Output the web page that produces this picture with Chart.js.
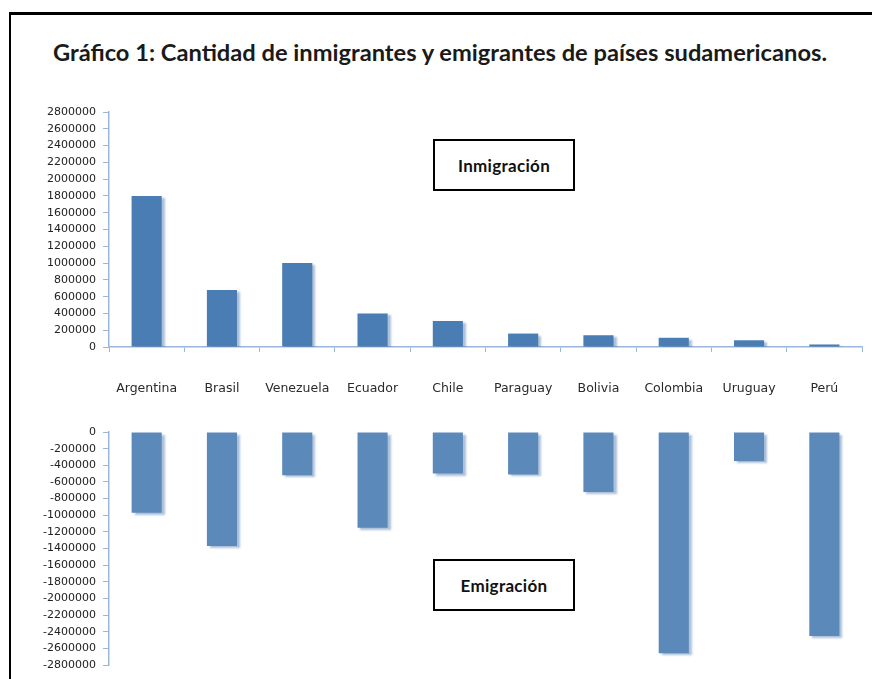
<!DOCTYPE html>
<html>
<head>
<meta charset="utf-8">
<script src="https://cdn.jsdelivr.net/npm/chart.js@4.4.0/dist/chart.umd.min.js"></script>
<style>
  body { margin: 0; background: #fff; width: 872px; height: 679px; overflow: hidden; position: relative; }
  .frame { position: absolute; left: 9px; top: 12px; width: 900px; height: 700px; border-left: 2px solid #000; border-top: 3px solid #000; }
  .title { position: absolute; left: 53px; top: 38px; font: bold 23px Lato, sans-serif; color: #1a1a1a; white-space: nowrap; transform-origin: left top; }
  .box { position: absolute; left: 433px; width: 142px; height: 52px; box-sizing: border-box; border: 2px solid #000; display: flex; align-items: center; justify-content: center; font: bold 17px Lato, sans-serif; letter-spacing: 0.3px; color: #111; background: #fff; }
  canvas { position: absolute; left: 0; }
</style>
</head>
<body>
<div class="frame"></div>
<div class="title" id="title">Gráfico 1: Cantidad de inmigrantes y emigrantes de países sudamericanos.</div>
<canvas id="topChart" width="872" height="400" style="top:0"></canvas>
<canvas id="bottomChart" width="872" height="279" style="top:400px"></canvas>
<div class="box" style="top:139px">Inmigración</div>
<div class="box" style="top:559px">Emigración</div>
<script>
const categories = ['Argentina', 'Brasil', 'Venezuela', 'Ecuador', 'Chile', 'Paraguay', 'Bolivia', 'Colombia', 'Uruguay', 'Perú'];
const inmigracion = [1800000, 680000, 1000000, 400000, 310000, 160000, 140000, 110000, 80000, 30000];
const emigracion = [-970000, -1370000, -520000, -1150000, -500000, -510000, -720000, -2660000, -350000, -2450000];
const tickStep = 200000;
const tickMax = 2800000;

// squeeze the title to the width it has in the picture
const title = document.getElementById('title');
title.style.transform = 'scaleX(' + (774 / title.getBoundingClientRect().width) + ')';

const axisColor = '#9ab6da';
const tickFont = { family: 'DejaVu Sans', size: 11 };
const catFont = { family: 'DejaVu Sans', size: 12.5 };

// soft shadow to the right/bottom of each bar
const barShadow = {
  id: 'barShadow',
  beforeDatasetsDraw(chart) {
    const ctx = chart.ctx;
    ctx.save();
    ctx.shadowColor = 'rgba(90,130,180,0.5)';
    ctx.shadowOffsetX = 3;
    ctx.shadowOffsetY = 2;
    ctx.shadowBlur = 2;
  },
  afterDatasetsDraw(chart) {
    chart.ctx.restore();
  }
};

const yAxis = (min, max) => ({
  min: min,
  max: max,
  afterFit: (scale) => { scale.width = 109; },
  border: { display: true, color: axisColor, width: 1.5 },
  grid: { display: true, drawOnChartArea: false, drawTicks: true, tickLength: 6, color: axisColor },
  ticks: {
    stepSize: tickStep,
    padding: 7,
    color: '#222',
    font: tickFont,
    callback: (v) => String(v)
  }
});

new Chart(document.getElementById('topChart'), {
  type: 'bar',
  data: {
    labels: categories,
    datasets: [{
      data: inmigracion,
      backgroundColor: '#4a7db3',
      categoryPercentage: 1,
      barPercentage: 0.4
    }]
  },
  plugins: [barShadow],
  options: {
    responsive: false,
    devicePixelRatio: 1,
    animation: false,
    layout: { padding: { top: 112, right: 10, left: 0, bottom: 0 } },
    plugins: { legend: { display: false }, tooltip: { enabled: false } },
    scales: {
      x: {
        afterFit: (scale) => { scale.height = 53; },
        border: { display: true, color: axisColor, width: 1.5 },
        grid: { display: true, drawOnChartArea: false, drawTicks: true, tickLength: 5, color: axisColor },
        ticks: { padding: 29, color: '#2a2a2a', font: catFont, maxRotation: 0 }
      },
      y: yAxis(0, tickMax)
    }
  }
});

new Chart(document.getElementById('bottomChart'), {
  type: 'bar',
  data: {
    labels: categories,
    datasets: [{
      data: emigracion,
      backgroundColor: '#5a89ba',
      categoryPercentage: 1,
      barPercentage: 0.4
    }]
  },
  plugins: [barShadow],
  options: {
    responsive: false,
    devicePixelRatio: 1,
    animation: false,
    layout: { padding: { top: 32, right: 10, left: 0, bottom: 14 } },
    plugins: { legend: { display: false }, tooltip: { enabled: false } },
    scales: {
      x: { display: false },
      y: yAxis(-tickMax, 0)
    }
  }
});
</script>
</body>
</html>
